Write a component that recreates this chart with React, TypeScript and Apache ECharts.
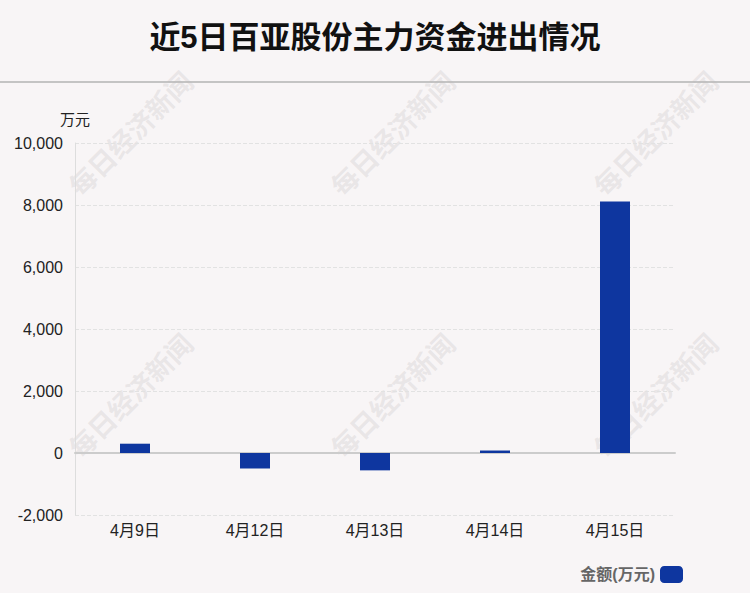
import React, { useEffect, useRef } from "react";
import * as echarts from "echarts";

const categories = ["4月9日", "4月12日", "4月13日", "4月14日", "4月15日"];
const amounts = [300, -500, -560, 80, 8110];
const seriesName = "金额(万元)";
const titleText = "近5日百亚股份主力资金进出情况";
const watermarkText = "每日经济新闻";
const watermarkPos = [
  [130, 133], [392, 133], [655, 133],
  [130, 395], [392, 395], [655, 395],
];

export default function App() {
  const ref = useRef<HTMLDivElement>(null);
  useEffect(() => {
    if (!ref.current) return;
    const chart = echarts.init(ref.current, null, { renderer: "svg" });
    const font = "'Liberation Sans', 'Noto Sans CJK SC', sans-serif";
    chart.setOption({
      animation: false,
      backgroundColor: "#f8f5f6",
      textStyle: { fontFamily: font },
      title: {
        text: titleText,
        left: "center",
        top: 17,
        textStyle: { fontSize: 31, fontWeight: "bold", color: "#111", fontFamily: font },
      },
      legend: {
        data: [{ name: seriesName, icon: "roundRect" }],
        right: 62,
        bottom: 5,
        align: "right",
        itemWidth: 23,
        itemHeight: 17,
        itemGap: 5,
        textStyle: { fontSize: 16, color: "#666", fontWeight: "bold", fontFamily: font },
      },
      graphic: [
        {
          type: "line",
          shape: { x1: 0, y1: 82, x2: 750, y2: 82 },
          style: { stroke: "#c4c4c4", lineWidth: 2 },
          silent: true,
        },
        ...watermarkPos.map(([x, y]) => ({
          type: "text",
          x,
          y,
          rotation: Math.PI / 4,
          style: {
            text: watermarkText,
            fontSize: 27,
            fontWeight: "bold",
            fill: "rgba(190,185,187,0.26)",
            align: "center",
            verticalAlign: "middle",
            fontFamily: "'Noto Sans CJK SC', sans-serif",
          },
          silent: true,
          z: 0,
        })),
      ],
      grid: { left: 75, right: 75, top: 143, bottom: 78 },
      xAxis: {
        type: "category",
        data: categories,
        axisLine: { onZero: true, lineStyle: { color: "#ccc", width: 2 } },
        axisTick: { show: false },
        axisLabel: {
          color: "#222",
          fontSize: 16,
          margin: 7,
        },
      },
      yAxis: {
        type: "value",
        min: -2000,
        max: 10000,
        interval: 2000,
        name: "万元",
        nameGap: 16,
        nameTextStyle: { color: "#222", fontSize: 15, align: "center" },
        axisLine: { show: true, lineStyle: { color: "#ddd" } },
        axisTick: { show: false },
        axisLabel: {
          color: "#222",
          fontSize: 16,
          margin: 12,
          formatter: (v: number) => v.toLocaleString("en-US"),
        },
        splitLine: { lineStyle: { color: "#e2e2e2", type: "dashed" } },
      },
      series: [
        {
          name: seriesName,
          type: "bar",
          data: amounts,
          barWidth: 30,
          itemStyle: { color: "#0e369f" },
        },
      ],
    });
    return () => chart.dispose();
  }, []);
  return (
    <div
      ref={ref}
      style={{ position: "fixed", left: 0, top: 0, width: 750, height: 593 }}
    />
  );
}
